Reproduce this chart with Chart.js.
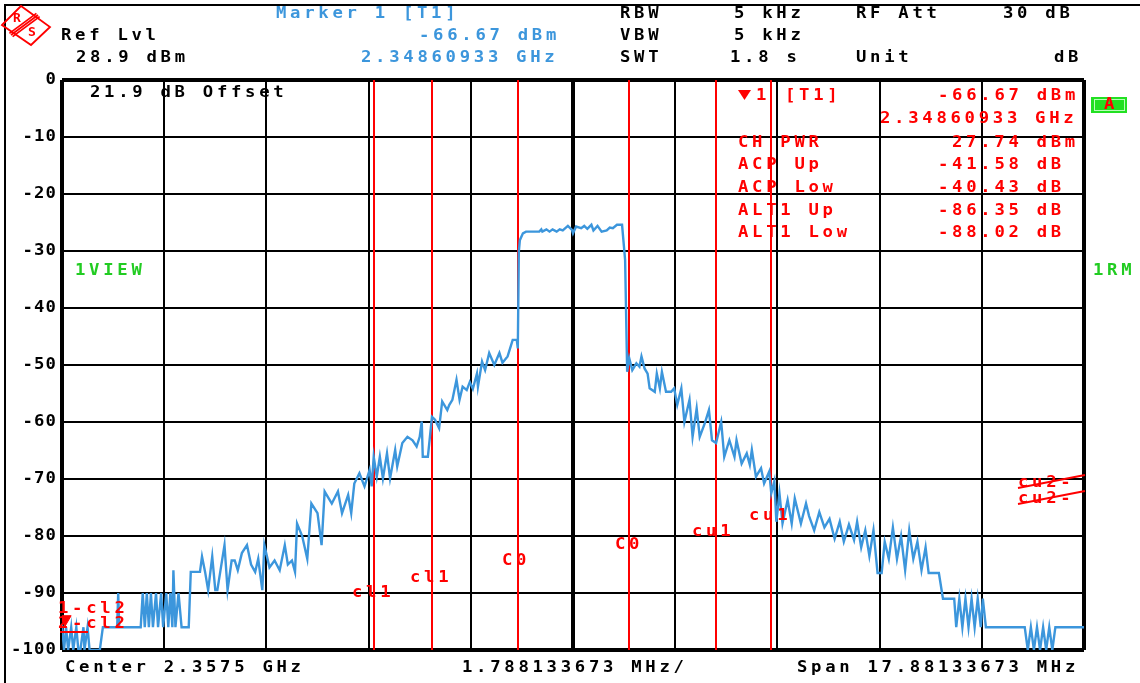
<!DOCTYPE html>
<html>
<head>
<meta charset="utf-8">
<script src="https://cdn.jsdelivr.net/npm/chart.js@4.4.1/dist/chart.umd.min.js"></script>
<style>
  html, body { margin: 0; padding: 0; background: #fff; }
  #wrap { width: 1140px; height: 683px; }
</style>
</head>
<body>
<div id="wrap"><canvas id="spectrum" width="1140" height="683"></canvas></div>
<script>
// 스펙트럼 분석기 화면 (ACP 측정) 데이터
var centerMHz = 2357.5;
var mhzPerDiv = 1.788133673;
var divTicks = [0, 1, 2, 3, 4, 5, 6, 7, 8, 9, 10];
var levelTicks = [0, -10, -20, -30, -40, -50, -60, -70, -80, -90, -100];

// 트레이스: 가로 위치(눈금 칸 단위) 와 레벨(dB)
var traceDiv = [
  0.00, 0.02, 0.04, 0.06, 0.09, 0.11, 0.14, 0.16, 0.18, 0.21, 0.22, 0.25, 0.27, 0.37, 0.40,
  0.54, 0.55, 0.56, 0.77, 0.79, 0.81, 0.83, 0.85, 0.87, 0.89, 0.92, 0.94, 0.97, 0.99,
  1.02, 1.04, 1.06, 1.08, 1.09, 1.11, 1.14, 1.17, 1.24, 1.26, 1.35, 1.37, 1.40, 1.43,
  1.47, 1.50, 1.52, 1.59, 1.62, 1.66, 1.69, 1.72, 1.76, 1.81, 1.85, 1.89, 1.92, 1.96,
  1.98, 2.03, 2.08, 2.13, 2.18, 2.21, 2.25, 2.28, 2.30, 2.35, 2.40, 2.44, 2.50, 2.54,
  2.57, 2.64, 2.70, 2.74, 2.80, 2.83, 2.86, 2.91, 2.96, 3.01, 3.03, 3.05, 3.08, 3.11,
  3.14, 3.18, 3.21, 3.26, 3.28, 3.33, 3.38, 3.43, 3.47, 3.50, 3.52, 3.53, 3.58, 3.62,
  3.65, 3.69, 3.72, 3.77, 3.79, 3.82, 3.86, 3.89, 3.92, 3.96, 3.99, 4.02, 4.06, 4.07,
  4.11, 4.14, 4.18, 4.23, 4.28, 4.31, 4.36, 4.41, 4.45, 4.46, 4.47, 4.48, 4.51, 4.54,
  4.67, 4.69, 4.70, 4.74, 4.77, 4.80, 4.84, 4.87, 4.90, 4.95, 4.99, 5.00, 5.03, 5.08,
  5.11, 5.14, 5.18, 5.20, 5.24, 5.28, 5.33, 5.36, 5.39, 5.43, 5.48, 5.51, 5.53, 5.55,
  5.58, 5.62, 5.65, 5.67, 5.70, 5.73, 5.75, 5.80, 5.82, 5.85, 5.87, 5.91, 5.96, 5.99,
  6.02, 6.06, 6.09, 6.14, 6.17, 6.21, 6.24, 6.29, 6.33, 6.36, 6.40, 6.45, 6.48, 6.53,
  6.58, 6.60, 6.65, 6.70, 6.73, 6.75, 6.79, 6.84, 6.87, 6.92, 6.94, 6.97, 6.99, 7.02,
  7.05, 7.10, 7.14, 7.17, 7.23, 7.28, 7.31, 7.36, 7.41, 7.46, 7.51, 7.56, 7.61, 7.65,
  7.70, 7.75, 7.78, 7.82, 7.86, 7.90, 7.94, 7.98, 8.02, 8.05, 8.09, 8.13, 8.17, 8.21,
  8.25, 8.29, 8.33, 8.37, 8.41, 8.45, 8.48, 8.53, 8.58, 8.62, 8.73, 8.75, 8.78, 8.81,
  8.84, 8.87, 8.90, 8.93, 8.96, 8.99, 9.01, 9.04, 9.42, 9.45, 9.48, 9.51, 9.54, 9.57,
  9.60, 9.63, 9.66, 9.69, 9.72, 10.0
];
var traceDb = [
  -95.6, -100, -96, -100, -96, -100, -96, -100, -100, -96, -100, -96, -100, -100, -96,
  -96, -90, -96, -96, -90, -96, -90, -96, -90, -96, -90, -96, -90, -96,
  -90, -96, -90, -96, -86, -96, -90, -96, -96, -86.3, -86.3, -83.6, -86.3, -89.5,
  -83.6, -89.5, -89.5, -81.6, -89.5, -84.3, -84.3, -86, -83, -81.6, -85, -86.3, -84, -89.5,
  -81.6, -85.5, -84.3, -86, -81.6, -85, -84.3, -86.3, -77.8, -80, -84, -74.3, -76, -81.6,
  -72.2, -74.3, -72.2, -76, -72.8, -76, -70.8, -69, -71.3, -68.4, -71.3, -66.1, -69.6, -66.1,
  -69.9, -65.5, -69.9, -64.9, -67.8, -63.7, -62.6, -63.2, -64.3, -62.6, -59.9, -66.1, -66.1, -59.1,
  -59.6, -61.1, -56.4, -57.9, -57, -56.1, -52.6, -56.1, -53.8, -54.4, -53, -54.2, -51.5, -53.8,
  -49.4, -50.9, -47.9, -50, -47.9, -49.6, -48.5, -45.6, -45.6, -47.1, -30.1, -28.1, -26.9, -26.6,
  -26.6, -26.2, -26.6, -26.2, -26.6, -26.2, -26.6, -26.2, -26.4, -25.6, -26.3, -26.9, -25.7, -26.0,
  -25.6, -26.1, -25.4, -26.4, -25.6, -26.6, -26.4, -25.9, -26.0, -25.4, -25.4, -31.6, -51.2, -48.8,
  -50.9, -49.7, -50.3, -48.5, -50.6, -51.5, -54.1, -54.7, -51.5, -54.1, -51.2, -54.7, -54.7, -54.1,
  -57, -54.1, -60, -56.1, -62.6, -57.6, -62.6, -60.2, -57.9, -63.2, -63.7, -60, -66.1, -63.2,
  -66.1, -63.2, -67.3, -65.5, -67.5, -64.9, -69.6, -68.1, -70.8, -68.7, -72.5, -70.4, -77.5, -72.5,
  -77.8, -73.7, -77.8, -73.4, -77.8, -74.3, -76.5, -79, -75.8, -78.5, -77, -80.5, -77.5, -81,
  -78, -80.7, -77.5, -82, -79, -83.5, -79, -86.5, -86.5, -81, -84, -78.5, -84, -80,
  -86, -79, -84, -81, -86, -82, -86.5, -86.5, -86.5, -91, -91, -96, -91, -96,
  -91, -96, -91, -96, -91, -96, -91, -96, -96, -100, -96, -100, -96, -100,
  -96, -100, -96, -100, -96, -96
];

// 채널 경계선 (cl1, cl1, C0, C0, cu1, cu1)
var channelDiv = [3.05, 3.62, 4.46, 5.55, 6.40, 6.94];

// 마커 1
var markerDiv = 0.03;
var markerDb = -94.6;

function toMHz(d) {
  return centerMHz + (d - 5) * mhzPerDiv;
}

var BLUE = '#3c96dc';
var RED = '#ff0000';
var GREEN = '#22cc22';
var FONT = 'bold 15px "DejaVu Sans Mono"';

// 글자 하나씩 고정 간격으로 그리기 (계측기 화면 글꼴 흉내)
function spaced(ctx, s, x, y, color, adv) {
  ctx.fillStyle = color;
  for (var i = 0; i < s.length; i++) {
    ctx.save();
    ctx.translate(x + i * adv, y);
    ctx.scale(1.15, 1);
    ctx.fillText(s[i], 0, 0);
    ctx.restore();
  }
}

var headerTexts = [
  ['Ref Lvl', 61, 36, '#000'], ['28.9 dBm', 76, 58, '#000'],
  ['Marker 1 [T1]', 276, 14, BLUE], ['-66.67 dBm', 419, 36, BLUE], ['2.34860933 GHz', 361, 58, BLUE],
  ['RBW', 620, 14, '#000'], ['5 kHz', 734, 14, '#000'], ['RF Att', 856, 14, '#000'], ['30 dB', 1003, 14, '#000'],
  ['VBW', 620, 36, '#000'], ['5 kHz', 734, 36, '#000'],
  ['SWT', 620, 58, '#000'], ['1.8 s', 730, 58, '#000'], ['Unit', 856, 58, '#000'], ['dB', 1054, 58, '#000'],
  ['Center 2.3575 GHz', 65, 668, '#000'], ['1.788133673 MHz/', 462, 668, '#000'],
  ['Span 17.88133673 MHz', 797, 668, '#000']
];

var plotTexts = [
  ['21.9 dB Offset', 90, 93, '#000'],
  ['1VIEW', 75, 271, GREEN], ['1RM', 1093, 271, GREEN],
  ['1', 756, 96, RED], ['[T1]', 785, 96, RED], ['-66.67 dBm', 938, 96, RED],
  ['2.34860933 GHz', 880, 119, RED],
  ['CH PWR', 738, 143, RED], ['27.74 dBm', 952, 143, RED],
  ['ACP Up', 738, 165, RED], ['-41.58 dB', 938, 165, RED],
  ['ACP Low', 738, 188, RED], ['-40.43 dB', 938, 188, RED],
  ['ALT1 Up', 738, 211, RED], ['-86.35 dB', 938, 211, RED],
  ['ALT1 Low', 738, 233, RED], ['-88.02 dB', 938, 233, RED],
  ['cl1', 352, 593, RED], ['cl1', 410, 578, RED], ['C0', 502, 561, RED], ['C0', 615, 545, RED],
  ['cu1', 692, 532, RED], ['cu1', 749, 516, RED],
  ['cu2-', 1018, 483, RED], ['cu2-', 1018, 499, RED],
  ['1-cl2', 58, 609, RED], ['2-cl2', 58, 624, RED]
];

var overlayPlugin = {
  id: 'overlay',
  beforeDatasetsDraw: function (chart) {
    var ctx = chart.ctx, a = chart.chartArea, xs = chart.scales.x;
    ctx.save();
    ctx.strokeStyle = RED;
    ctx.lineWidth = 2;
    channelDiv.forEach(function (d) {
      var px = Math.round(xs.getPixelForValue(toMHz(d)));
      ctx.beginPath();
      ctx.moveTo(px, a.top);
      ctx.lineTo(px, a.bottom);
      ctx.stroke();
    });
    ctx.restore();
  },
  afterDraw: function (chart) {
    var ctx = chart.ctx, ys = chart.scales.y;
    ctx.save();
    ctx.font = FONT;
    ctx.textBaseline = 'middle';
    ctx.textAlign = 'left';

    // 바깥 테두리
    ctx.strokeStyle = '#000';
    ctx.lineWidth = 2;
    ctx.beginPath();
    ctx.moveTo(5, 683); ctx.lineTo(5, 5); ctx.lineTo(1140, 5);
    ctx.stroke();

    // R&S 로고
    ctx.strokeStyle = RED;
    ctx.lineWidth = 1.8;
    ctx.beginPath();
    ctx.moveTo(2, 25); ctx.lineTo(21, 6); ctx.lineTo(50, 27); ctx.lineTo(31, 45); ctx.closePath();
    ctx.stroke();
    for (var k = -1; k <= 1; k++) {
      ctx.beginPath();
      ctx.moveTo(11 + k * 1.6, 35 + k * 1.6); ctx.lineTo(38 + k * 1.6, 15 + k * 1.6);
      ctx.stroke();
    }
    ctx.fillStyle = RED;
    ctx.font = 'bold 13px "DejaVu Sans Mono"';
    ctx.fillText('R', 13, 19);
    ctx.fillText('S', 28, 33);
    ctx.font = FONT;

    // 세로축 눈금 글자
    levelTicks.forEach(function (v) {
      var s = String(v);
      var py = ys.getPixelForValue(v);
      spaced(ctx, s, 57 - s.length * 11.5, py, '#000', 11.5);
    });

    headerTexts.concat(plotTexts).forEach(function (t) {
      spaced(ctx, t[0], t[1], t[2], t[3], 14.1);
    });

    // 마커 표 안의 ▼
    ctx.fillStyle = RED;
    ctx.beginPath();
    ctx.moveTo(738, 90); ctx.lineTo(751, 90); ctx.lineTo(744.5, 100); ctx.closePath();
    ctx.fill();

    // cu2 라벨 위의 빗금
    ctx.strokeStyle = RED;
    ctx.lineWidth = 2;
    ctx.beginPath();
    ctx.moveTo(1018, 488); ctx.lineTo(1085, 475);
    ctx.moveTo(1018, 504); ctx.lineTo(1085, 491);
    ctx.moveTo(60, 632); ctx.lineTo(88, 632);
    ctx.stroke();

    // 초록색 A 표시
    ctx.fillStyle = '#22e022';
    ctx.fillRect(1091, 97, 36, 16);
    ctx.strokeStyle = '#b8ffb8';
    ctx.lineWidth = 1;
    ctx.strokeRect(1094.5, 99.5, 30, 11);
    spaced(ctx, 'A', 1104, 105, RED, 14);
    ctx.restore();
  }
};

function gridWidth(c) {
  if (c.index === 0 || c.index === 10) return 4;
  return 2;
}

var traceData = traceDiv.map(function (d, i) { return { x: toMHz(d), y: traceDb[i] }; });

var spectrumChart = new Chart(document.getElementById('spectrum'), {
  type: 'line',
  data: {
    datasets: [{
      data: traceData,
      borderColor: BLUE,
      borderWidth: 2.4,
      pointRadius: 0,
      tension: 0,
      fill: false
    }, {
      data: [{ x: toMHz(markerDiv), y: markerDb }],
      showLine: false,
      pointStyle: 'triangle',
      rotation: 180,
      pointRadius: 7,
      pointBackgroundColor: RED,
      pointBorderColor: RED
    }]
  },
  options: {
    responsive: false,
    animation: false,
    layout: { padding: { left: 62, right: 56, top: 80, bottom: 33 } },
    plugins: { legend: { display: false }, tooltip: { enabled: false } },
    scales: {
      x: {
        type: 'linear',
        min: toMHz(0),
        max: toMHz(10),
        afterBuildTicks: function (s) { s.ticks = divTicks.map(function (d) { return { value: toMHz(d) }; }); },
        afterFit: function (s) { s.height = 0; },
        ticks: { display: false },
        border: { display: false },
        grid: {
          color: '#000',
          drawTicks: false,
          lineWidth: function (c) { return c.index === 5 ? 4 : gridWidth(c); }
        }
      },
      y: {
        min: -100,
        max: 0,
        afterBuildTicks: function (s) { s.ticks = levelTicks.slice().reverse().map(function (v) { return { value: v }; }); },
        afterFit: function (s) { s.width = 0; },
        ticks: { display: false },
        border: { display: false },
        grid: { color: '#000', drawTicks: false, lineWidth: gridWidth }
      }
    }
  },
  plugins: [overlayPlugin]
});
</script>
</body>
</html>
